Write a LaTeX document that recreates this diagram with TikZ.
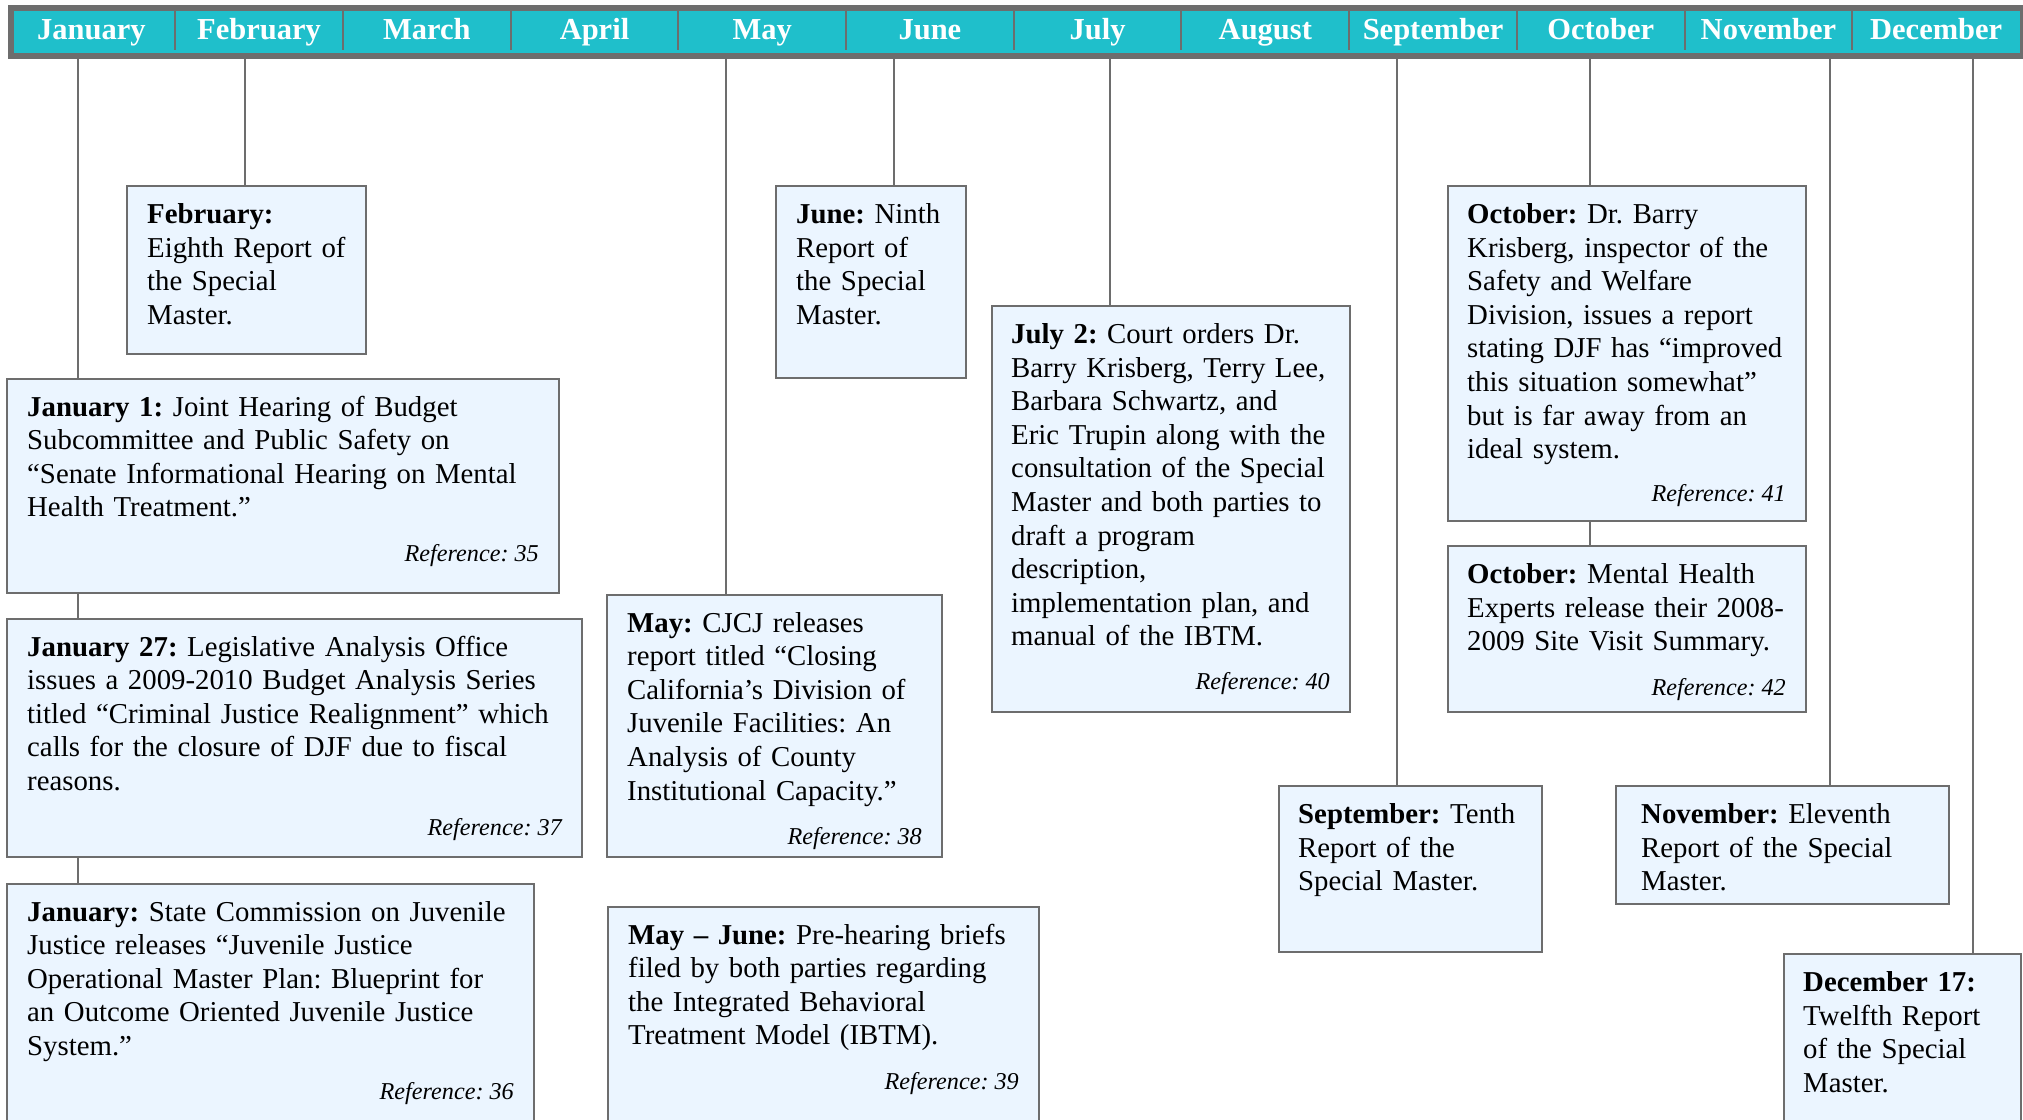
\documentclass[tikz,border=0pt]{standalone}
\usepackage{fontspec}
\setmainfont{Liberation Serif}
\frenchspacing
\definecolor{hdrTeal}{HTML}{1FBFCB}
\definecolor{boxFill}{HTML}{EBF5FF}
\definecolor{lineGray}{HTML}{6D6D6D}
\begin{document}
\frenchspacing
\begin{tikzpicture}[x=1pt,y=-1pt,
  evbox/.style={draw=lineGray, line width=2pt, fill=boxFill, rectangle, inner sep=0pt, anchor=north west},
  evtext/.style={anchor=base west, inner sep=0pt, text width=600pt, align=left, font=\fontsize{28.8}{33.6}\selectfont\frenchspacing},
  reftext/.style={anchor=base east, inner sep=0pt, font=\fontsize{24.2}{28}\selectfont\itshape},
  conn/.style={draw=lineGray, line width=2pt},
  month/.style={text=white, font=\fontsize{30.5}{33}\selectfont\bfseries, inner sep=0pt, anchor=base}]
\useasboundingbox (0,0) rectangle (2023,1119);
\clip (0,0) rectangle (2023,1119);

% header bar
\node[draw=lineGray, line width=6pt, fill=hdrTeal, rectangle, inner sep=0pt, anchor=north west,
  minimum width=2012.5pt, minimum height=47.5pt] (hdr) at (7.5,5) {};
\foreach \i in {1,...,11}{
  \draw[line width=2pt, lineGray] (7.5+167.71*\i, 8) -- (7.5+167.71*\i, 49.5);
}
\foreach \m [count=\i] in {January,February,March,April,May,June,July,August,September,October,November,December}{
  \node[month] (m\i) at (7.5+167.71*\i-83.85, 39.3) {\m};
}

% boxes
\node[evbox, minimum width=239pt, minimum height=168pt] (feb) at (126,185) {};
\node[evbox, minimum width=552pt, minimum height=214pt] (jan1) at (6,378) {};
\node[evbox, minimum width=575pt, minimum height=238pt] (jan27) at (6,618) {};
\node[evbox, minimum width=527pt, minimum height=246pt] (janc) at (6,883) {};
\node[evbox, minimum width=335pt, minimum height=262pt] (may) at (606,594) {};
\node[evbox, minimum width=431pt, minimum height=223pt] (mayjune) at (607,906) {};
\node[evbox, minimum width=190pt, minimum height=192pt] (june) at (775,185) {};
\node[evbox, minimum width=358pt, minimum height=406pt] (july) at (991,305) {};
\node[evbox, minimum width=263pt, minimum height=166pt] (sept) at (1278,785) {};
\node[evbox, minimum width=358pt, minimum height=335pt] (oct1) at (1447,185) {};
\node[evbox, minimum width=358pt, minimum height=166pt] (oct2) at (1447,545) {};
\node[evbox, minimum width=333pt, minimum height=118pt] (nov) at (1615,785) {};
\node[evbox, minimum width=237pt, minimum height=176pt] (dec) at (1783,953) {};

% texts
\node[evtext] (febt) at (147,223.5) {\textbf{February:}\\Eighth Report of\\the Special\\Master.};
\node[evtext] (jan1t) at (27,416) {\textbf{January 1:} Joint Hearing of Budget\\Subcommittee and Public Safety on\\“Senate Informational Hearing on Mental\\Health Treatment.”};
\node[reftext] (jan1r) at (539,561.5) {Reference: 35};
\node[evtext] (jan27t) at (27,656) {\textbf{January 27:} Legislative Analysis Office\\issues a 2009-2010 Budget Analysis Series\\titled “Criminal Justice Realignment” which\\calls for the closure of DJF due to fiscal\\reasons.};
\node[reftext] (jan27r) at (562,835) {Reference: 37};
\node[evtext] (janct) at (27,921) {\textbf{January:} State Commission on Juvenile\\Justice releases “Juvenile Justice\\Operational Master Plan: Blueprint for\\an Outcome Oriented Juvenile Justice\\System.”};
\node[reftext] (jancr) at (514,1099.5) {Reference: 36};
\node[evtext] (mayt) at (627,632) {\textbf{May:} CJCJ releases\\report titled “Closing\\California’s Division of\\Juvenile Facilities: An\\Analysis of County\\Institutional Capacity.”};
\node[reftext] (mayr) at (922,844) {Reference: 38};
\node[evtext] (mayjunet) at (628,944) {\textbf{May – June:} Pre-hearing briefs\\filed by both parties regarding\\the Integrated Behavioral\\Treatment Model (IBTM).};
\node[reftext] (mayjuner) at (1019,1089.5) {Reference: 39};
\node[evtext] (junet) at (796,223.5) {\textbf{June:} Ninth\\Report of\\the Special\\Master.};
\node[evtext] (julyt) at (1011,343.5) {\textbf{July 2:} Court orders Dr.\\Barry Krisberg, Terry Lee,\\Barbara Schwartz, and\\Eric Trupin along with the\\consultation of the Special\\Master and both parties to\\draft a program\\description,\\implementation plan, and\\manual of the IBTM.};
\node[reftext] (julyr) at (1330,689) {Reference: 40};
\node[evtext] (septt) at (1298,823.5) {\textbf{September:} Tenth\\Report of the\\Special Master.};
\node[evtext] (oct1t) at (1467,223.5) {\textbf{October:} Dr. Barry\\Krisberg, inspector of the\\Safety and Welfare\\Division, issues a report\\stating DJF has “improved\\this situation somewhat”\\but is far away from an\\ideal system.};
\node[reftext] (oct1r) at (1786,501.5) {Reference: 41};
\node[evtext] (oct2t) at (1467,583.5) {\textbf{October:} Mental Health\\Experts release their 2008-\\2009 Site Visit Summary.};
\node[reftext] (oct2r) at (1786,695) {Reference: 42};
\node[evtext] (novt) at (1641,823.5) {\textbf{November:} Eleventh\\Report of the Special\\Master.};
\node[evtext] (dect) at (1803,991.5) {\textbf{December 17:}\\Twelfth Report\\of the Special\\Master.};

% connectors
\coordinate (cJan) at (78,55);
\coordinate (cFeb) at (245,55);
\coordinate (cMay) at (726,55);
\coordinate (cJun) at (894,55);
\coordinate (cJul) at (1110,55);
\coordinate (cSep) at (1397,55);
\coordinate (cOct) at (1590,55);
\coordinate (cNov) at (1830,55);
\coordinate (cDec) at (1973,55);
\draw[conn] (cJan) -- (cJan |- jan1.north);
\draw[conn] (cJan |- jan1.south) -- (cJan |- jan27.north);
\draw[conn] (cJan |- jan27.south) -- (cJan |- janc.north);
\draw[conn] (cFeb) -- (cFeb |- feb.north);
\draw[conn] (cMay) -- (cMay |- may.north);
\draw[conn] (cJun) -- (cJun |- june.north);
\draw[conn] (cJul) -- (cJul |- july.north);
\draw[conn] (cSep) -- (cSep |- sept.north);
\draw[conn] (cOct) -- (cOct |- oct1.north);
\draw[conn] (cOct |- oct1.south) -- (cOct |- oct2.north);
\draw[conn] (cNov) -- (cNov |- nov.north);
\draw[conn] (cDec) -- (cDec |- dec.north);
\end{tikzpicture}
\end{document}
